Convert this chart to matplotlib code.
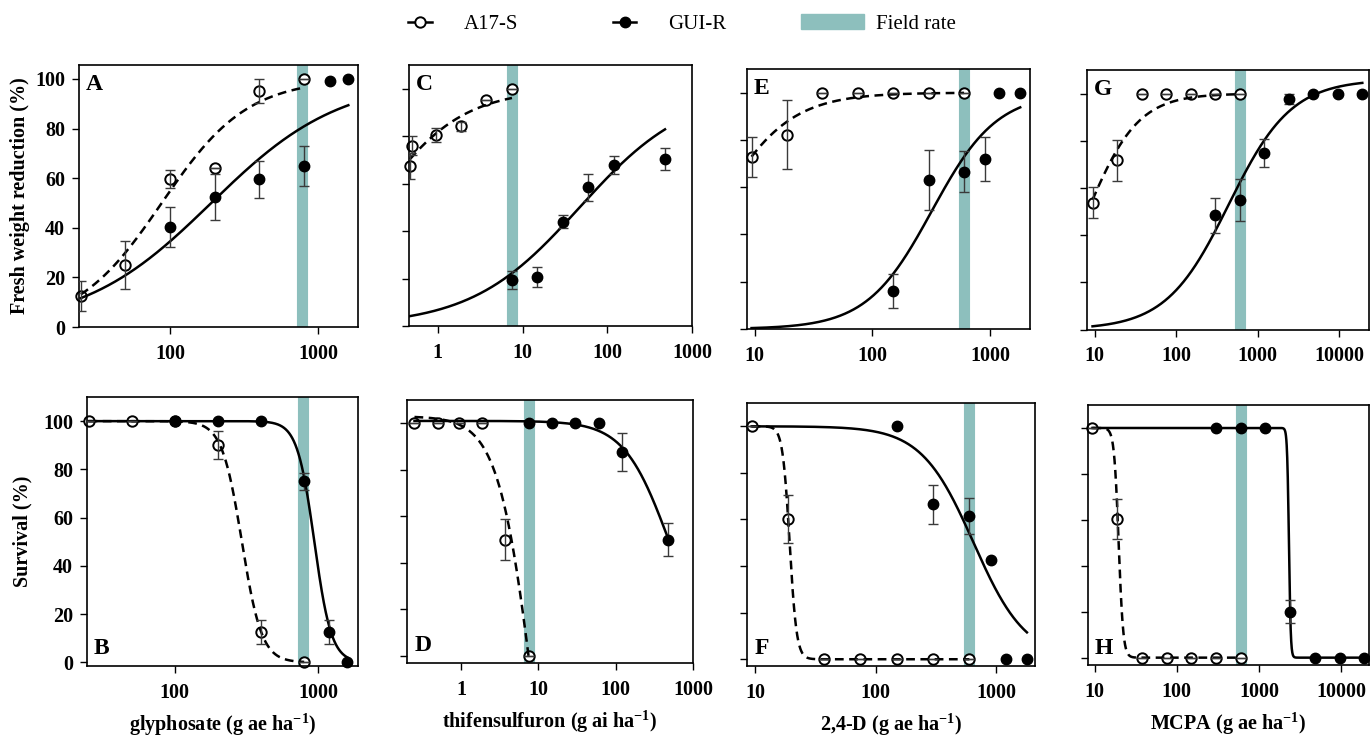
#Dose-response of A17-S and GUI-R: fresh weight reduction (top) and survival (bottom) for four herbicides.
import numpy as np
import matplotlib
matplotlib.use('Agg')
import matplotlib.pyplot as plt
from matplotlib.lines import Line2D
from matplotlib.patches import Patch
from matplotlib.legend_handler import HandlerLine2D
from matplotlib.ticker import FixedLocator, NullLocator, FuncFormatter

plt.rcParams['font.family'] = 'serif'
plt.rcParams['font.serif'] = ['Liberation Serif', 'DejaVu Serif']
plt.rcParams['font.weight'] = 'bold'
plt.rcParams['axes.labelweight'] = 'bold'
plt.rcParams['mathtext.fontset'] = 'custom'
plt.rcParams['mathtext.rm'] = 'Liberation Serif:bold'
plt.rcParams['mathtext.bf'] = 'Liberation Serif:bold'

#Data, one entry per herbicide
herbicide = ['glyphosate (g ae ha$^{-1}$)', 'thifensulfuron (g ai ha$^{-1}$)',
             '2,4-D (g ae ha$^{-1}$)', 'MCPA (g ae ha$^{-1}$)']
field_rate = [780, 7.5, 600, 600]
xticks = [[100, 1000], [1, 10, 100, 1000], [10, 100, 1000], [10, 100, 1000, 10000]]

#fresh weight reduction (%)
fw_s_dose = [[25, 50, 100, 200, 400, 800], [0.47, 0.5, 0.94, 1.875, 3.75, 7.5],
             [9.4, 18.75, 37.5, 75, 150, 300, 600], [9.4, 18.75, 37.5, 75, 150, 300, 600]]
fw_s_mean = [[12.5, 25, 59.5, 64, 95, 100], [67.5, 76, 80.5, 84.2, 95.4, 100],
             [72.6, 82.2, 100, 100, 100, 100, 100], [53.8, 71.7, 100, 100, 100, 100, 100]]
fw_s_se = [[6, 9.5, 3.6, 0, 4.8, 0], [5.5, 4.1, 3, 1.9, 0, 0],
           [8.5, 14.5, 0, 0, 0, 0, 0], [6.5, 8.6, 0, 0, 0, 0, 0]]
fw_r_dose = [[100, 200, 400, 800, 1200, 1600], [7.5, 15, 30, 60, 120, 480],
             [150, 300, 600, 900, 1200, 1800], [300, 600, 1200, 2400, 4800, 9600, 19200]]
fw_r_mean = [[40.4, 52.5, 59.5, 65, 99.2, 100], [19.2, 20.7, 43.9, 58.4, 67.9, 70.3],
             [16, 63, 66.5, 72, 100, 100], [48.4, 54.8, 74.9, 97.7, 100, 100, 100]]
fw_r_se = [[8, 9.2, 7.6, 8.1, 0, 0], [3.8, 4.3, 2.8, 5.6, 3.7, 4.6],
           [7.3, 12.7, 8.7, 9.3, 0, 0], [7.5, 8.8, 6, 2.3, 0, 0, 0]]

#survival (%)
sv_s_dose = [[25, 50, 100, 200, 400, 800], [0.25, 0.5, 0.94, 1.875, 3.75, 7.5],
             [9.4, 18.75, 37.5, 75, 150, 300, 600], [9.4, 18.75, 37.5, 75, 150, 300, 600]]
sv_s_mean = [[100, 100, 100, 90, 12.5, 0], [100, 100, 100, 100, 50, 0],
             [100, 60, 0, 0, 0, 0, 0], [100, 60.2, 0, 0, 0, 0, 0]]
sv_s_se = [[0, 0, 0, 5.7, 5, 0], [0, 0, 0, 0, 9, 0],
           [0, 10.3, 0, 0, 0, 0, 0], [0, 8.7, 0, 0, 0, 0, 0]]
sv_r_dose = [[100, 200, 400, 800, 1200, 1600], [7.5, 15, 30, 60, 120, 480],
             [150, 300, 600, 900, 1200, 1800], [300, 600, 1200, 2400, 4800, 9600, 19200]]
sv_r_mean = [[100, 100, 100, 75, 12.5, 0], [100, 100, 100, 100, 87.6, 50],
             [100, 66.5, 61.5, 42.7, 0, 0], [100, 100, 100, 20, 0, 0, 0]]
sv_r_se = [[0, 0, 0, 3.6, 5, 0], [0, 0, 0, 0, 8.2, 7],
           [0, 8.4, 7.6, 0, 0, 0], [0, 0, 0, 4.9, 0, 0, 0]]

#log-logistic fits (lower, upper, ED50, slope)
fw_s_fit = [(0, 100, 88, -1.5), (0, 100, 0.169, -0.845), (0, 100, 4.66, -1.41), (0, 100, 8.14, -1.39)]
fw_r_fit = [(0, 100, 190, -1.0), (0, 100, 47.2, -0.68), (0, 100, 320, -1.57), (0, 106, 441, -1.13)]
sv_s_fit = [(0, 100, 294, 6.25), (-150, 103, 9.12, 1.87), (0, 100, 19.4, 14.9), (0, 100, 19.6, 15.7)]
sv_r_fit = [(0, 100, 942, 7.28), (0, 101, 476, 1.51), (0, 100, 650, 2.0), (0, 100, 2320, 40)]

#Layout (pixel boxes of the axes) and limits
W, H = 1370, 736
fw_box = [(79, 358, 65, 327), (409, 692, 65, 326), (747, 1030, 69, 329), (1087, 1369, 70, 329.5)]
sv_box = [(87, 358, 397, 666), (407, 693, 400, 663), (747, 1035, 403, 666), (1088, 1369, 405, 665)]
fw_xlim = [(24.3, 1860), (0.457, 1000), (8.6, 2180), (8.04, 23200)]
sv_xlim = [(24.4, 1900), (0.2, 1000), (8.6, 2100), (8.3, 21900)]
fw_ylim = [(0, 105.6), (0, 110), (0, 110), (0, 110)]
sv_ylim = [(-1.5, 110), (-3.1, 110), (-2.9, 110), (-3.2, 110)]
TEAL = '#8dbfbd'
ERR = '#3a3a3a'

def ll4(x, c, d, e, b):
  return c + (d-c)/(1+(x/e)**b)

def panel(ax, s_dose, s_mean, s_se, r_dose, r_mean, r_se, s_fit, r_fit, rate):
  ax.axvline(rate, color=TEAL, lw=8, zorder=0)
  xs = np.geomspace(s_dose[0], s_dose[-1], 1500)
  ax.plot(xs, ll4(xs, *s_fit), c='k', lw=1.8, ls=(0, (3.5, 2.2)), zorder=3)
  xr = np.geomspace(min(s_dose[0], r_dose[0]), r_dose[-1], 1500)
  ax.plot(xr, ll4(xr, *r_fit), c='k', lw=1.8, zorder=3)
  ax.plot(s_dose, s_mean, 'o', mfc='white', mec='k', mew=1.4, ms=7.5, zorder=2, clip_on=False)
  for d, m, e in ((s_dose, s_mean, s_se), (r_dose, r_mean, r_se)):
    ax.errorbar(d, m, yerr=e, fmt='none', ecolor=ERR, elinewidth=1, capsize=3.5, capthick=1, zorder=3)
  ax.plot(r_dose, r_mean, 'o', mfc='k', mec='k', ms=7.5, zorder=4, clip_on=False)

def style(ax, xlim, ylim, ticks, ylabels):
  ax.set_xscale('log')
  ax.set_xlim(xlim)
  ax.set_ylim(ylim)
  ax.xaxis.set_major_locator(FixedLocator(ticks))
  ax.xaxis.set_minor_locator(NullLocator())
  ax.xaxis.set_major_formatter(FuncFormatter(lambda v, p: f'{v:g}'))
  ax.set_yticks([0, 20, 40, 60, 80, 100])
  ax.tick_params(direction='out', length=5, width=1, labelsize=14.5, pad=5, labelleft=ylabels)
  ax.tick_params(axis='x', pad=7)
  for s in ax.spines.values(): s.set_linewidth(1.2)

fig = plt.figure(figsize=(W/100, H/100), dpi=100)
letters_top = 'ACEG'
letters_bot = 'BDFH'
for i in range(4):
  x0, x1, top, bot = fw_box[i]
  ax = fig.add_axes([x0/W, 1-bot/H, (x1-x0)/W, (bot-top)/H])
  panel(ax, fw_s_dose[i], fw_s_mean[i], fw_s_se[i], fw_r_dose[i], fw_r_mean[i], fw_r_se[i],
        fw_s_fit[i], fw_r_fit[i], field_rate[i])
  style(ax, fw_xlim[i], fw_ylim[i], xticks[i], i == 0)
  ax.text(0.025, 0.965, letters_top[i], transform=ax.transAxes, ha='left', va='top', fontsize=17)
  if i == 0: ax.set_ylabel('Fresh weight reduction (%)', fontsize=14.5, labelpad=4)

  x0, x1, top, bot = sv_box[i]
  ax = fig.add_axes([x0/W, 1-bot/H, (x1-x0)/W, (bot-top)/H])
  panel(ax, sv_s_dose[i], sv_s_mean[i], sv_s_se[i], sv_r_dose[i], sv_r_mean[i], sv_r_se[i],
        sv_s_fit[i], sv_r_fit[i], field_rate[i])
  style(ax, sv_xlim[i], sv_ylim[i], xticks[i], i == 0)
  ax.text(0.025, 0.025, letters_bot[i], transform=ax.transAxes, ha='left', va='bottom', fontsize=17)
  ax.set_xlabel(herbicide[i], fontsize=14.5, labelpad=6)
  if i == 0: ax.set_ylabel('Survival (%)', fontsize=14.5, labelpad=8)

#Legend with short line handles
class ShortLine(HandlerLine2D):
  def create_artists(self, legend, orig_handle, xdescent, ydescent, width, height, fontsize, trans):
    w = 0.38*width
    return super().create_artists(legend, orig_handle, xdescent-(width-w)/2, ydescent, w, height, fontsize, trans)

handles = [Line2D([], [], c='k', lw=1.8, marker='o', mfc='white', mec='k', mew=1.4, ms=7.5),
           Line2D([], [], c='k', lw=1.8, marker='o', mfc='k', mec='k', ms=7.5),
           Patch(color=TEAL)]
fig.legend(handles, ['A17-S', 'GUI-R', 'Field rate'], loc='center', bbox_to_anchor=(0.491, 0.967),
           ncol=3, frameon=False, numpoints=1, handlelength=3.0, handletextpad=0.6, columnspacing=3.6,
           prop={'family': 'serif', 'weight': 'normal', 'size': 15},
           handler_map={Line2D: ShortLine(numpoints=1)})

fig.savefig('out.png', dpi=100)
print('saved out.png')
